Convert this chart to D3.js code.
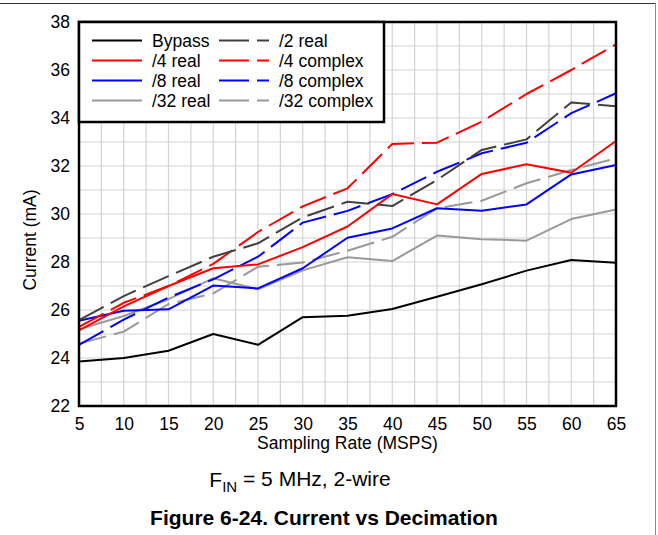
<!DOCTYPE html>
<html><head><meta charset="utf-8">
<script src="https://cdn.jsdelivr.net/npm/d3@7"></script>
<style>body{margin:0;background:#fff}svg{display:block;font-family:"Liberation Sans",Arial,sans-serif}</style>
</head><body>
<svg id="c" width="658" height="535"></svg>
<script>
const samplingRate = [5,10,15,20,25,30,35,40,45,50,55,60,65];
const bypass       = [23.85,24.0,24.3,25.0,24.55,25.7,25.76,26.04,26.55,27.07,27.64,28.08,27.97];
const div2Real     = [25.58,26.58,27.41,28.22,28.78,29.86,30.51,30.33,31.42,32.67,33.11,34.65,34.49];
const div4Real     = [25.15,26.15,27.0,27.74,27.9,28.62,29.48,30.83,30.4,31.67,32.07,31.72,33.04];
const div4Complex  = [25.3,26.3,27.0,27.92,29.25,30.32,31.07,32.92,32.97,33.85,35.0,36.0,37.07];
const div8Real     = [25.55,25.97,26.03,27.02,26.9,27.74,29.01,29.4,30.24,30.14,30.4,31.65,32.04];
const div8Complex  = [24.55,25.6,26.52,27.28,28.22,29.64,30.13,30.83,31.76,32.53,32.97,34.2,35.03];
const div32Real    = [25.2,25.75,26.45,27.32,26.86,27.65,28.2,28.04,29.1,28.95,28.89,29.79,30.19];
const div32Complex = [24.6,25.1,26.25,26.69,27.8,27.98,28.47,29.05,30.24,30.55,31.28,31.83,32.32];
const xTicks = [5,10,15,20,25,30,35,40,45,50,55,60,65];
const yTicks = [22,24,26,28,30,32,34,36,38];
const seriesNames = ["Bypass","/2 real","/4 real","/4 complex","/8 real","/8 complex","/32 real","/32 complex"];

const svg = d3.select("#c");
const L=79,R=616,T=22,B=406;
const FS=17.5;
const x = d3.scaleLinear().domain([5,65]).range([L,R]);
const y = d3.scaleLinear().domain([22,38]).range([B,T]);

// outer frame
svg.append("line").attr("x1",0).attr("x2",655.5).attr("y1",3.5).attr("y2",3.5).attr("stroke","#333").attr("stroke-width",1);
svg.append("line").attr("x1",655.5).attr("x2",655.5).attr("y1",3.5).attr("y2",535).attr("stroke","#888").attr("stroke-width",1);

// grid
const g = svg.append("g");
g.selectAll(".vg").data(d3.range(5,65.01,2.5)).join("line")
 .attr("x1",d=>x(d)).attr("x2",d=>x(d)).attr("y1",T).attr("y2",B)
 .attr("stroke","#d3d3d3").attr("stroke-width",1.2);
g.selectAll(".hg").data(d3.range(22,38.01,1)).join("line")
 .attr("x1",L).attr("x2",R).attr("y1",d=>y(d)).attr("y2",d=>y(d))
 .attr("stroke","#d3d3d3").attr("stroke-width",1.2);

// axes (labels only)
const xa = svg.append("g").attr("transform",`translate(0,${B})`)
 .call(d3.axisBottom(x).tickValues(xTicks).tickSize(0).tickPadding(12).tickFormat(d3.format("d")));
xa.select(".domain").remove();
xa.selectAll("text").attr("font-size",FS).attr("font-family","Liberation Sans, Arial").attr("fill","#000");
const ya = svg.append("g").attr("transform",`translate(${L},0)`)
 .call(d3.axisLeft(y).tickValues(yTicks).tickSize(0).tickPadding(9).tickFormat(d3.format("d")));
ya.select(".domain").remove();
ya.selectAll("text").attr("font-size",FS).attr("font-family","Liberation Sans, Arial").attr("fill","#000");

// series
const series = [
 {name:"Bypass",v:bypass,c:"#000000",dash:null},
 {name:"/2 real",v:div2Real,c:"#404040",dash:"28,8"},
 {name:"/4 real",v:div4Real,c:"#ff0000",dash:null},
 {name:"/4 complex",v:div4Complex,c:"#ff0000",dash:"28,8"},
 {name:"/8 real",v:div8Real,c:"#0000ff",dash:null},
 {name:"/8 complex",v:div8Complex,c:"#0000ff",dash:"28,8"},
 {name:"/32 real",v:div32Real,c:"#999999",dash:null},
 {name:"/32 complex",v:div32Complex,c:"#999999",dash:"28,8"}
];
const line = d3.line().x((d,i)=>x(samplingRate[i])).y(d=>y(d));
const drawOrder = [6,7,4,5,2,3,1,0];
drawOrder.forEach(k=>{
 const s=series[k];
 svg.append("path").attr("d",line(s.v)).attr("fill","none").attr("stroke",s.c)
  .attr("stroke-width",2).attr("stroke-linejoin","round")
  .attr("stroke-dasharray",s.dash);
});

// plot frame
svg.append("rect").attr("x",L).attr("y",T).attr("width",R-L).attr("height",B-T)
 .attr("fill","none").attr("stroke","#000").attr("stroke-width",2.5);

// legend
const lg = svg.append("g");
lg.append("rect").attr("x",L).attr("y",T).attr("width",384-L).attr("height",122-T)
 .attr("fill","#fff").attr("stroke","#000").attr("stroke-width",2.5);
const legCols=[[0,2,4,6],[1,3,5,7]];
const colX=[92,219];
legCols.forEach((col,ci)=>{
 col.forEach((k,ri)=>{
  const s=series[k];
  const yy=40.5+ri*20;
  lg.append("line").attr("x1",colX[ci]).attr("x2",colX[ci]+50).attr("y1",yy).attr("y2",yy)
   .attr("stroke",s.c).attr("stroke-width",2).attr("stroke-dasharray",s.dash?"30,8":null);
  lg.append("text").attr("x",colX[ci]+60).attr("y",yy).attr("dy","0.35em")
   .attr("font-size",FS).text(s.name);
 });
});

// axis titles
svg.append("text").attr("x",(L+R)/2).attr("y",443).attr("dy","0.35em").attr("text-anchor","middle")
 .attr("font-size",FS).text("Sampling Rate (MSPS)");
svg.append("text").attr("transform","translate(30,240) rotate(-90)").attr("dy","0.35em").attr("text-anchor","middle")
 .attr("font-size",FS).text("Current (mA)");

// captions
const cap = svg.append("text").attr("x",300).attr("y",480).attr("dy","0.35em").attr("text-anchor","middle").attr("font-size",21);
cap.append("tspan").text("F");
cap.append("tspan").attr("font-size",15).attr("dy","0.3em").text("IN");
cap.append("tspan").attr("dy","-0.3em").text(" = 5 MHz, 2-wire");
svg.append("text").attr("x",324).attr("y",518).attr("dy","0.35em").attr("text-anchor","middle")
 .attr("font-size",21).attr("font-weight","bold").text("Figure 6-24. Current vs Decimation");
</script>
</body></html>
